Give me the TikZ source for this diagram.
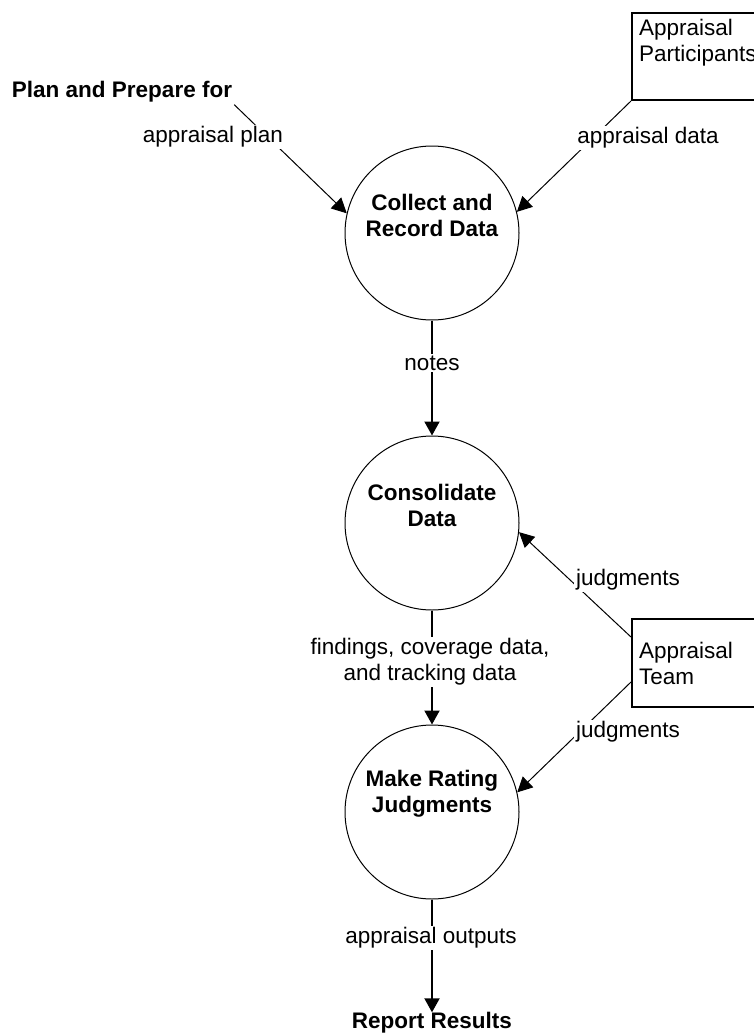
\documentclass[tikz,border=0pt]{standalone}
\usepackage{fontspec}
\setmainfont{Liberation Sans}
\usetikzlibrary{arrows.meta}
\tikzset{
  proc/.style={draw, circle, line width=1pt, minimum size=174pt, inner sep=0pt},
  proctext/.style={font=\fontsize{22.5}{26}\selectfont\bfseries, align=center, inner sep=0pt},
  extbox/.style={draw, line width=2pt, minimum width=160pt, inner sep=0pt},
  boxtext/.style={font=\fontsize{22.5}{26}\selectfont, align=left, inner sep=0pt},
  lbl/.style={font=\fontsize{22.5}{26}\selectfont, fill=white, inner sep=2pt, align=center},
  term/.style={font=\fontsize{22.5}{26}\selectfont\bfseries, inner sep=2pt},
  flow/.style={line width=2pt, -{Triangle[length=14pt,width=15pt]}},
  dflow/.style={line width=1pt, -{Triangle[length=15pt,width=15pt]}},
}
\begin{document}
\begin{tikzpicture}[x=1pt,y=-1pt]
\clip (0,0) rectangle (754,1036);
\node[proc] (collect) at (432,233) {};
\node[proctext] at ([yshift=18pt]collect.center) {Collect and\\Record Data};
\node[proc] (consolidate) at (432,523) {};
\node[proctext] at ([yshift=18pt]consolidate.center) {Consolidate\\Data};
\node[proc] (rating) at (432,812) {};
\node[proctext] at ([yshift=18pt]rating.center) {Make Rating\\Judgments};
\node[term] (plan) at (122,92) {Plan and Prepare for};
\node[term, inner sep=0pt] (report) at (432,1023) {Report Results};
\node[extbox, minimum height=87pt, anchor=north west] (participants) at (631,12) {};
\node[boxtext, anchor=north west] at ([shift={(8pt,-7pt)}]participants.north west) {Appraisal\\Participants};
\node[extbox, boxtext, minimum height=88pt, text width=146pt, inner xsep=7pt, anchor=west] (team) at (631,663) {Appraisal\\Team};
\draw[dflow] (plan.south east) -- (collect.167);
\draw[dflow] (participants.south west) -- (collect.14);
\draw[flow] (collect) -- (consolidate);
\draw[dflow] ([yshift=26pt]team.west) -- (consolidate.-6);
\draw[dflow] ([yshift=-19pt]team.west) -- (rating.13);
\draw[flow] (consolidate) -- (rating);
\draw[flow] (rating) -- (report);
\node[lbl] (planlbl) at (213,137) {appraisal plan};
\node[lbl] (datalbl) at (648,138) {appraisal data};
\node[lbl] (noteslbl) at (432,363) {notes};
\node[lbl] (findlbl) at (430,662) {findings, coverage data,\\and tracking data};
\node[lbl] (judg1) at (628,580) {judgments};
\node[lbl] (judg2) at (628,732) {judgments};
\node[lbl] (outlbl) at (431,938) {appraisal outputs};
\end{tikzpicture}
\end{document}
